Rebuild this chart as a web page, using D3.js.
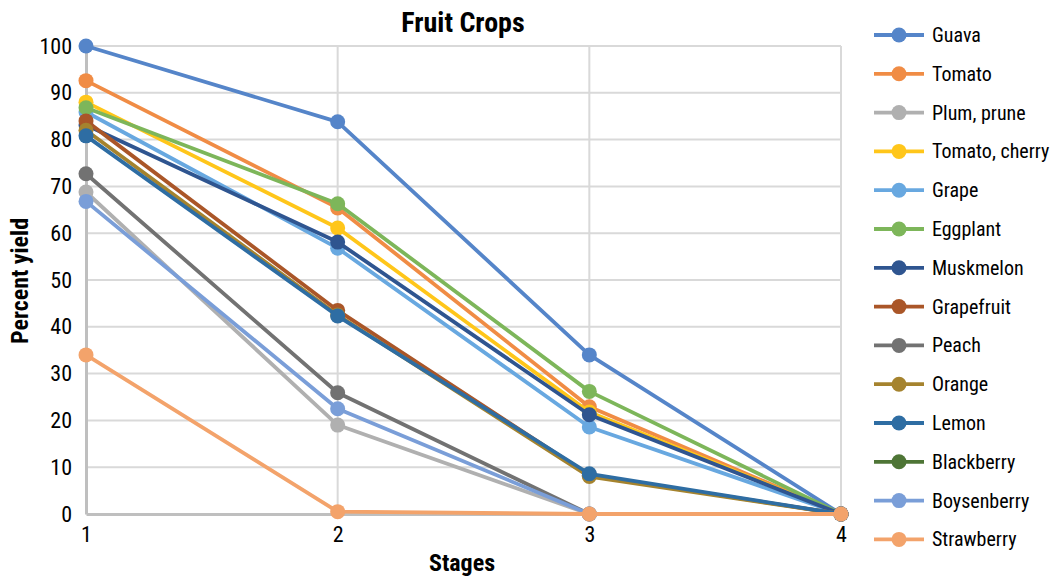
<!DOCTYPE html>
<html>
<head>
<meta charset="utf-8">
<script src="https://cdn.jsdelivr.net/npm/d3@7"></script>
<style>
  body { margin: 0; background: #fff; }
  svg text { font-family: Roboto, "Liberation Sans", sans-serif; font-stretch: condensed; fill: #000; }
</style>
</head>
<body>
<div id="chart"></div>
<script>
// --- Data ---
const stages = [1, 2, 3, 4];
const seriesNames = ["Guava", "Tomato", "Plum, prune", "Tomato, cherry", "Grape", "Eggplant", "Muskmelon",
  "Grapefruit", "Peach", "Orange", "Lemon", "Blackberry", "Boysenberry", "Strawberry"];
const seriesColors = ["#5585C9", "#F08C45", "#B0B0B0", "#FFC61A", "#68A8E0", "#7DB65A", "#2F5590",
  "#AA5628", "#727272", "#A5832E", "#2E6DA3", "#4E7536", "#7A9ED8", "#F3A36B"];
const guava = [100, 83.8, 34.0, 0];
const tomato = [92.6, 65.4, 22.9, 0];
const plum = [68.8, 19.0, 0, 0];
const tomatoCherry = [88.0, 61.1, 21.8, 0];
const grape = [85.9, 56.8, 18.6, 0];
const eggplant = [86.8, 66.3, 26.2, 0];
const muskmelon = [83.1, 58.1, 21.2, 0];
const grapefruit = [84.0, 43.5, 8.3, 0];
const peach = [72.7, 25.9, 0, 0];
const orange = [82.0, 42.5, 8.0, 0];
const lemon = [80.8, 42.3, 8.6, 0];
const blackberry = [null, null, null, null]; // no points visible in the chart
const boysenberry = [66.8, 22.5, 0, 0];
const strawberry = [34.0, 0.5, 0, 0];
const yTicks = [0, 10, 20, 30, 40, 50, 60, 70, 80, 90, 100];

const allValues = [guava, tomato, plum, tomatoCherry, grape, eggplant, muskmelon,
  grapefruit, peach, orange, lemon, blackberry, boysenberry, strawberry];
const series = seriesNames.map((name, i) => ({ name, color: seriesColors[i], values: allValues[i] }));

// --- Layout ---
const width = 1055, height = 580;
const plot = { left: 86, right: 841, top: 46, bottom: 514 };

const svg = d3.select("#chart").append("svg")
  .attr("width", width).attr("height", height);

const x = d3.scaleLinear().domain([1, 4]).range([plot.left, plot.right]);
const y = d3.scaleLinear().domain([0, 100]).range([plot.bottom, plot.top]);

// gridlines
svg.append("g").selectAll("line").data(yTicks.filter(d => d > 0)).enter().append("line")
  .attr("x1", plot.left).attr("x2", plot.right)
  .attr("y1", d => y(d)).attr("y2", d => y(d))
  .attr("stroke", "#d9d9d9").attr("stroke-width", 2);
svg.append("g").selectAll("line").data(stages.slice(1)).enter().append("line")
  .attr("x1", d => x(d)).attr("x2", d => x(d))
  .attr("y1", plot.top).attr("y2", plot.bottom)
  .attr("stroke", "#d9d9d9").attr("stroke-width", 2);

// axes
const yAxis = d3.axisLeft(y).tickValues(yTicks).tickSize(0).tickPadding(14);
const gy = svg.append("g").attr("transform", `translate(${plot.left},0)`).call(yAxis);
gy.select(".domain").attr("stroke", "#bfbfbf").attr("stroke-width", 3);
gy.selectAll("text").style("font-size", "22px");

const xAxis = d3.axisBottom(x).tickValues(stages).tickFormat(d3.format("d")).tickSize(0).tickPadding(12);
const gx = svg.append("g").attr("transform", `translate(0,${plot.bottom})`).call(xAxis);
gx.select(".domain").attr("stroke", "#bfbfbf").attr("stroke-width", 3);
gx.selectAll("text").style("font-size", "22px");

// lines and markers
const line = d3.line().defined(d => d != null).x((d, i) => x(stages[i])).y(d => y(d));
const g = svg.append("g");
series.forEach(s => {
  g.append("path").datum(s.values)
    .attr("d", line).attr("fill", "none")
    .attr("stroke", s.color).attr("stroke-width", 3.8).attr("stroke-linejoin", "round");
  g.selectAll(null).data(s.values.map((v, i) => ({ v, i })).filter(d => d.v != null)).enter().append("circle")
    .attr("cx", d => x(stages[d.i])).attr("cy", d => y(d.v))
    .attr("r", 7.5).attr("fill", s.color);
});

// titles
svg.append("text").attr("x", 463).attr("y", 32).attr("text-anchor", "middle")
  .style("font-size", "28px").style("font-weight", "bold").text("Fruit Crops");
svg.append("text").attr("x", 462).attr("y", 571).attr("text-anchor", "middle")
  .style("font-size", "24px").style("font-weight", "bold").text("Stages");
svg.append("text").attr("transform", "translate(28,281) rotate(-90)").attr("text-anchor", "middle")
  .style("font-size", "24px").style("font-weight", "bold").text("Percent yield");

// legend
const legend = svg.append("g").selectAll("g").data(series).enter().append("g")
  .attr("transform", (d, i) => `translate(874,${35 + i * 38.8})`);
legend.append("line").attr("x1", 0).attr("x2", 50)
  .attr("stroke", d => d.color).attr("stroke-width", 3.8);
legend.append("circle").attr("cx", 25).attr("r", 7.5).attr("fill", d => d.color);
legend.append("text").attr("x", 58).attr("dy", "0.35em")
  .style("font-size", "20px").text(d => d.name);
</script>
</body>
</html>
